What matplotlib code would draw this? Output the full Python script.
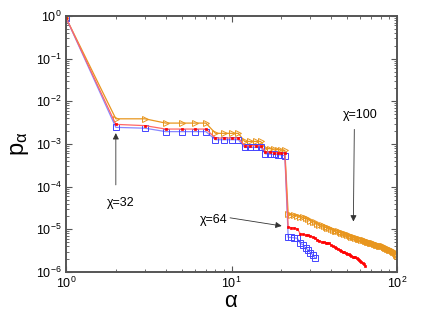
import numpy as np
import matplotlib
matplotlib.use("Agg")
import matplotlib.pyplot as plt

plt.rcParams['font.family'] = ['Liberation Sans', 'DejaVu Sans']
plt.rcParams['mathtext.fontset'] = 'custom'
plt.rcParams['mathtext.rm'] = 'Liberation Sans'
plt.rcParams['mathtext.it'] = 'Liberation Sans:italic'

# log10 of Schmidt values, alpha = 1, 2, ...
chi32_log = [-0.04, -2.61, -2.63, -2.71, -2.71, -2.71, -2.71, -2.90, -2.90, -2.90, -2.90,
             -3.08, -3.08, -3.08, -3.08, -3.23, -3.24, -3.24, -3.25, -3.26, -3.27,
             -5.19, -5.19, -5.20, -5.21, -5.33, -5.36, -5.44, -5.48, -5.55, -5.60, -5.67]
chi64_log = [-0.04, -2.54, -2.57, -2.65, -2.65, -2.65, -2.65, -2.86, -2.86, -2.86, -2.86,
             -3.04, -3.04, -3.04, -3.04, -3.18, -3.19, -3.20, -3.20, -3.21, -3.22,
             -4.95, -4.96, -4.97, -4.99, -5.10, -5.12, -5.13, -5.14, -5.16, -5.18,
             -5.21, -5.24, -5.27, -5.29, -5.30, -5.31, -5.32, -5.33, -5.37, -5.40,
             -5.42, -5.44, -5.46, -5.48, -5.50, -5.52, -5.54, -5.56, -5.57, -5.59,
             -5.61, -5.62, -5.64, -5.65, -5.66, -5.68, -5.70, -5.72, -5.74, -5.76,
             -5.79, -5.82, -5.85]
chi100_log = [-0.04, -2.41, -2.41, -2.51, -2.51, -2.51, -2.51, -2.75, -2.75, -2.75, -2.75,
              -2.94, -2.94, -2.94, -2.94, -3.10, -3.11, -3.12, -3.13, -3.14, -3.15,
              -4.64, -4.66, -4.67, -4.68, -4.71, -4.72, -4.74, -4.76, -4.80, -4.82,
              -4.84, -4.88, -4.89, -4.91, -4.93, -4.95, -4.96, -4.98, -5.00, -5.02,
              -5.03, -5.04, -5.05, -5.07, -5.08, -5.09, -5.10, -5.12, -5.13, -5.14,
              -5.16, -5.17, -5.18, -5.19, -5.20, -5.21, -5.22, -5.22, -5.23, -5.24,
              -5.25, -5.26, -5.27, -5.28, -5.29, -5.29, -5.30, -5.31, -5.32, -5.33,
              -5.33, -5.34, -5.35, -5.36, -5.36, -5.37, -5.38, -5.39, -5.39, -5.40,
              -5.40, -5.41, -5.42, -5.43, -5.44, -5.45, -5.46, -5.47, -5.48, -5.49,
              -5.49, -5.50, -5.51, -5.52, -5.53, -5.55, -5.57, -5.60, -5.63]

orange = '#E8961E'
red = '#FF0000'
blue = '#3333FF'

fig = plt.figure(figsize=(4.36, 3.25), dpi=100)
ax = fig.add_axes([0.1514, 0.1631, 0.7592, 0.7877])

a100 = np.arange(1, len(chi100_log) + 1)
a64 = np.arange(1, len(chi64_log) + 1)
a32 = np.arange(1, len(chi32_log) + 1)

ax.plot(a100, 10 ** np.array(chi100_log), color=orange, lw=0.9, marker='>',
        ms=4.2, mfc='none', mec=orange, mew=0.7)
ax.plot(a32, 10 ** np.array(chi32_log), color='#8888FF', lw=0.9, marker='s',
        ms=4, mfc='none', mec='#4444FF', mew=0.7)
ax.plot(a64, 10 ** np.array(chi64_log), color='#FF6666', lw=0.9, marker='s',
        ms=2.0, mfc=red, mec=red, mew=0.5)

ax.set_xscale('log')
ax.set_yscale('log')
ax.set_xlim(1, 100)
ax.set_ylim(1e-6, 1)

for s in ax.spines.values():
    s.set_color('#555555')
    s.set_linewidth(1.4)
ax.tick_params(which='both', direction='in', top=True, right=True, color='#555555',
               labelsize=9)
ax.tick_params(which='major', length=4, width=0.8, pad=3)
ax.tick_params(which='minor', length=2, width=0.6)
ax.yaxis.set_minor_locator(matplotlib.ticker.LogLocator(subs=np.arange(2, 10), numticks=20))
ax.yaxis.set_minor_formatter(matplotlib.ticker.NullFormatter())

ax.set_xlabel(r'$\mathrm{\alpha}$', fontsize=16, labelpad=0)
ax.set_ylabel(r'p$_{\mathrm{\alpha}}$', fontsize=17, labelpad=4)

arrow = dict(arrowstyle='-|>', color='#333333', lw=0.6, mutation_scale=9,
             shrinkA=0, shrinkB=0)
ax.annotate('', xy=(2.0, 1.8e-3), xytext=(2.0, 1.1e-4), arrowprops=arrow)
ax.text(2.15, 4.2e-5, 'χ=32', fontsize=9, ha='center', va='center')
ax.annotate('', xy=(20.1, 1.2e-5), xytext=(9.8, 1.86e-5), arrowprops=arrow)
ax.text(7.8, 1.67e-5, 'χ=64', fontsize=9, ha='center', va='center')
ax.annotate('', xy=(54.5, 1.52e-5), xytext=(55.2, 2.2e-3), arrowprops=arrow)
ax.text(59.8, 4.8e-3, 'χ=100', fontsize=9, ha='center', va='center')

fig.savefig('out.png', dpi=100)
